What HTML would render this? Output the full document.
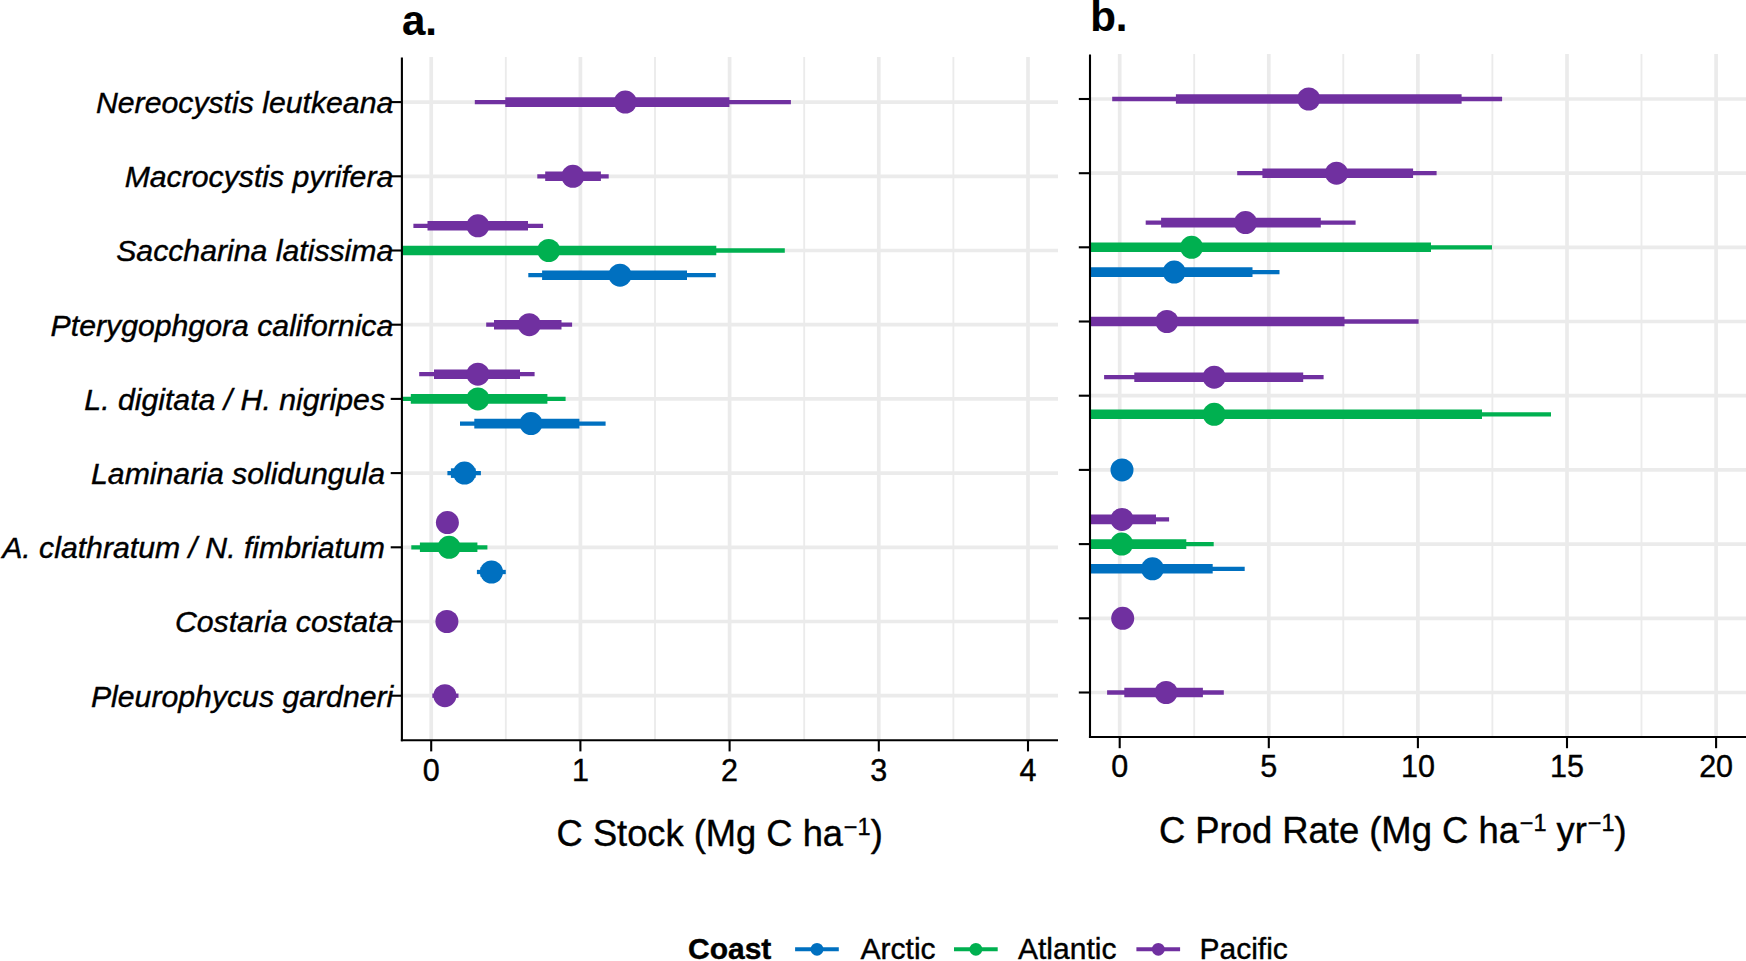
<!DOCTYPE html>
<html lang="en"><head><meta charset="utf-8"><title>Kelp carbon stock and production</title>
<style>html,body{margin:0;padding:0;background:#fff;}body{width:1746px;height:961px;overflow:hidden;}svg{display:block;}</style></head>
<body>
<svg width="1746" height="961" viewBox="0 0 1746 961">
<rect width="1746" height="961" fill="#fff"/>
<g>
<line x1="505.8" x2="505.8" y1="57.1" y2="740.2" stroke="#ebebeb" stroke-width="1.85"/>
<line x1="655.0" x2="655.0" y1="57.1" y2="740.2" stroke="#ebebeb" stroke-width="1.85"/>
<line x1="804.2" x2="804.2" y1="57.1" y2="740.2" stroke="#ebebeb" stroke-width="1.85"/>
<line x1="953.4" x2="953.4" y1="57.1" y2="740.2" stroke="#ebebeb" stroke-width="1.85"/>
<line x1="431.2" x2="431.2" y1="57.1" y2="740.2" stroke="#ebebeb" stroke-width="3.7"/>
<line x1="580.4" x2="580.4" y1="57.1" y2="740.2" stroke="#ebebeb" stroke-width="3.7"/>
<line x1="729.6" x2="729.6" y1="57.1" y2="740.2" stroke="#ebebeb" stroke-width="3.7"/>
<line x1="878.8" x2="878.8" y1="57.1" y2="740.2" stroke="#ebebeb" stroke-width="3.7"/>
<line x1="1028.0" x2="1028.0" y1="57.1" y2="740.2" stroke="#ebebeb" stroke-width="3.7"/>
<line x1="401.9" x2="1058.0" y1="102.1" y2="102.1" stroke="#ebebeb" stroke-width="3.7"/>
<line x1="401.9" x2="1058.0" y1="176.3" y2="176.3" stroke="#ebebeb" stroke-width="3.7"/>
<line x1="401.9" x2="1058.0" y1="250.5" y2="250.5" stroke="#ebebeb" stroke-width="3.7"/>
<line x1="401.9" x2="1058.0" y1="324.7" y2="324.7" stroke="#ebebeb" stroke-width="3.7"/>
<line x1="401.9" x2="1058.0" y1="398.9" y2="398.9" stroke="#ebebeb" stroke-width="3.7"/>
<line x1="401.9" x2="1058.0" y1="473.1" y2="473.1" stroke="#ebebeb" stroke-width="3.7"/>
<line x1="401.9" x2="1058.0" y1="547.3" y2="547.3" stroke="#ebebeb" stroke-width="3.7"/>
<line x1="401.9" x2="1058.0" y1="621.5" y2="621.5" stroke="#ebebeb" stroke-width="3.7"/>
<line x1="401.9" x2="1058.0" y1="695.7" y2="695.7" stroke="#ebebeb" stroke-width="3.7"/>
<line x1="1194.2" x2="1194.2" y1="53.95" y2="737.0" stroke="#ebebeb" stroke-width="1.85"/>
<line x1="1343.3" x2="1343.3" y1="53.95" y2="737.0" stroke="#ebebeb" stroke-width="1.85"/>
<line x1="1492.4" x2="1492.4" y1="53.95" y2="737.0" stroke="#ebebeb" stroke-width="1.85"/>
<line x1="1641.5" x2="1641.5" y1="53.95" y2="737.0" stroke="#ebebeb" stroke-width="1.85"/>
<line x1="1119.7" x2="1119.7" y1="53.95" y2="737.0" stroke="#ebebeb" stroke-width="3.7"/>
<line x1="1268.8" x2="1268.8" y1="53.95" y2="737.0" stroke="#ebebeb" stroke-width="3.7"/>
<line x1="1417.9" x2="1417.9" y1="53.95" y2="737.0" stroke="#ebebeb" stroke-width="3.7"/>
<line x1="1567.0" x2="1567.0" y1="53.95" y2="737.0" stroke="#ebebeb" stroke-width="3.7"/>
<line x1="1716.1" x2="1716.1" y1="53.95" y2="737.0" stroke="#ebebeb" stroke-width="3.7"/>
<line x1="1090.0" x2="1746.0" y1="99.0" y2="99.0" stroke="#ebebeb" stroke-width="3.7"/>
<line x1="1090.0" x2="1746.0" y1="173.2" y2="173.2" stroke="#ebebeb" stroke-width="3.7"/>
<line x1="1090.0" x2="1746.0" y1="247.3" y2="247.3" stroke="#ebebeb" stroke-width="3.7"/>
<line x1="1090.0" x2="1746.0" y1="321.5" y2="321.5" stroke="#ebebeb" stroke-width="3.7"/>
<line x1="1090.0" x2="1746.0" y1="395.7" y2="395.7" stroke="#ebebeb" stroke-width="3.7"/>
<line x1="1090.0" x2="1746.0" y1="469.9" y2="469.9" stroke="#ebebeb" stroke-width="3.7"/>
<line x1="1090.0" x2="1746.0" y1="544.1" y2="544.1" stroke="#ebebeb" stroke-width="3.7"/>
<line x1="1090.0" x2="1746.0" y1="618.3" y2="618.3" stroke="#ebebeb" stroke-width="3.7"/>
<line x1="1090.0" x2="1746.0" y1="692.5" y2="692.5" stroke="#ebebeb" stroke-width="3.7"/>
</g>
<g>
<line x1="474.8" x2="790.9" y1="102.1" y2="102.1" stroke="#7030A0" stroke-width="4.3"/>
<line x1="505.3" x2="729.4" y1="102.1" y2="102.1" stroke="#7030A0" stroke-width="9.6"/>
<circle cx="625.3" cy="102.1" r="11.5" fill="#7030A0"/>
<line x1="537.3" x2="608.7" y1="176.3" y2="176.3" stroke="#7030A0" stroke-width="4.3"/>
<line x1="545.2" x2="600.9" y1="176.3" y2="176.3" stroke="#7030A0" stroke-width="9.6"/>
<circle cx="572.9" cy="176.3" r="11.5" fill="#7030A0"/>
<line x1="413.4" x2="543.1" y1="225.8" y2="225.8" stroke="#7030A0" stroke-width="4.3"/>
<line x1="427.5" x2="528.0" y1="225.8" y2="225.8" stroke="#7030A0" stroke-width="9.6"/>
<circle cx="477.9" cy="225.8" r="11.5" fill="#7030A0"/>
<line x1="401.9" x2="784.8" y1="250.5" y2="250.5" stroke="#00B050" stroke-width="4.3"/>
<line x1="401.9" x2="716.3" y1="250.5" y2="250.5" stroke="#00B050" stroke-width="9.6"/>
<circle cx="548.7" cy="250.5" r="11.5" fill="#00B050"/>
<line x1="528.3" x2="715.8" y1="275.2" y2="275.2" stroke="#0070C0" stroke-width="4.3"/>
<line x1="542.1" x2="687.0" y1="275.2" y2="275.2" stroke="#0070C0" stroke-width="9.6"/>
<circle cx="620.0" cy="275.2" r="11.5" fill="#0070C0"/>
<line x1="486.2" x2="572.1" y1="324.7" y2="324.7" stroke="#7030A0" stroke-width="4.3"/>
<line x1="494.0" x2="561.5" y1="324.7" y2="324.7" stroke="#7030A0" stroke-width="9.6"/>
<circle cx="529.3" cy="324.7" r="11.5" fill="#7030A0"/>
<line x1="419.2" x2="534.6" y1="374.2" y2="374.2" stroke="#7030A0" stroke-width="4.3"/>
<line x1="434.0" x2="520.0" y1="374.2" y2="374.2" stroke="#7030A0" stroke-width="9.6"/>
<circle cx="477.9" cy="374.2" r="11.5" fill="#7030A0"/>
<line x1="401.9" x2="565.6" y1="398.9" y2="398.9" stroke="#00B050" stroke-width="4.3"/>
<line x1="410.8" x2="547.4" y1="398.9" y2="398.9" stroke="#00B050" stroke-width="9.6"/>
<circle cx="477.9" cy="398.9" r="11.5" fill="#00B050"/>
<line x1="460.0" x2="605.6" y1="423.6" y2="423.6" stroke="#0070C0" stroke-width="4.3"/>
<line x1="474.3" x2="579.4" y1="423.6" y2="423.6" stroke="#0070C0" stroke-width="9.6"/>
<circle cx="531.0" cy="423.6" r="11.5" fill="#0070C0"/>
<line x1="447.4" x2="480.9" y1="473.1" y2="473.1" stroke="#0070C0" stroke-width="4.3"/>
<line x1="450.9" x2="475.6" y1="473.1" y2="473.1" stroke="#0070C0" stroke-width="9.6"/>
<circle cx="464.5" cy="473.1" r="11.5" fill="#0070C0"/>
<circle cx="447.4" cy="522.6" r="11.5" fill="#7030A0"/>
<line x1="411.3" x2="487.4" y1="547.3" y2="547.3" stroke="#00B050" stroke-width="4.3"/>
<line x1="419.9" x2="477.4" y1="547.3" y2="547.3" stroke="#00B050" stroke-width="9.6"/>
<circle cx="449.1" cy="547.3" r="11.5" fill="#00B050"/>
<line x1="476.9" x2="505.8" y1="572.0" y2="572.0" stroke="#0070C0" stroke-width="4.3"/>
<line x1="480.5" x2="502.0" y1="572.0" y2="572.0" stroke="#0070C0" stroke-width="9.6"/>
<circle cx="491.5" cy="572.0" r="11.5" fill="#0070C0"/>
<circle cx="446.9" cy="621.5" r="11.5" fill="#7030A0"/>
<line x1="432.3" x2="458.5" y1="695.7" y2="695.7" stroke="#7030A0" stroke-width="4.3"/>
<circle cx="444.9" cy="695.7" r="11.5" fill="#7030A0"/>
<line x1="1112.2" x2="1502.1" y1="99.0" y2="99.0" stroke="#7030A0" stroke-width="4.3"/>
<line x1="1175.9" x2="1461.6" y1="99.0" y2="99.0" stroke="#7030A0" stroke-width="9.6"/>
<circle cx="1308.7" cy="99.0" r="11.5" fill="#7030A0"/>
<line x1="1237.2" x2="1436.6" y1="173.2" y2="173.2" stroke="#7030A0" stroke-width="4.3"/>
<line x1="1262.4" x2="1413.1" y1="173.2" y2="173.2" stroke="#7030A0" stroke-width="9.6"/>
<circle cx="1336.5" cy="173.2" r="11.5" fill="#7030A0"/>
<line x1="1145.7" x2="1355.6" y1="222.6" y2="222.6" stroke="#7030A0" stroke-width="4.3"/>
<line x1="1161.1" x2="1320.8" y1="222.6" y2="222.6" stroke="#7030A0" stroke-width="9.6"/>
<circle cx="1245.5" cy="222.6" r="11.5" fill="#7030A0"/>
<line x1="1090.0" x2="1492.0" y1="247.3" y2="247.3" stroke="#00B050" stroke-width="4.3"/>
<line x1="1090.0" x2="1431.0" y1="247.3" y2="247.3" stroke="#00B050" stroke-width="9.6"/>
<circle cx="1191.6" cy="247.3" r="11.5" fill="#00B050"/>
<line x1="1090.0" x2="1279.5" y1="272.1" y2="272.1" stroke="#0070C0" stroke-width="4.3"/>
<line x1="1090.0" x2="1252.5" y1="272.1" y2="272.1" stroke="#0070C0" stroke-width="9.6"/>
<circle cx="1174.2" cy="272.1" r="11.5" fill="#0070C0"/>
<line x1="1090.0" x2="1418.6" y1="321.5" y2="321.5" stroke="#7030A0" stroke-width="4.3"/>
<line x1="1090.0" x2="1344.5" y1="321.5" y2="321.5" stroke="#7030A0" stroke-width="9.6"/>
<circle cx="1166.9" cy="321.5" r="11.5" fill="#7030A0"/>
<line x1="1104.1" x2="1323.6" y1="377.2" y2="377.2" stroke="#7030A0" stroke-width="4.3"/>
<line x1="1134.3" x2="1303.2" y1="377.2" y2="377.2" stroke="#7030A0" stroke-width="9.6"/>
<circle cx="1214.2" cy="377.2" r="11.5" fill="#7030A0"/>
<line x1="1090.0" x2="1551.0" y1="414.3" y2="414.3" stroke="#00B050" stroke-width="4.3"/>
<line x1="1090.0" x2="1482.0" y1="414.3" y2="414.3" stroke="#00B050" stroke-width="9.6"/>
<circle cx="1214.2" cy="414.3" r="11.5" fill="#00B050"/>
<circle cx="1122.0" cy="469.9" r="11.5" fill="#0070C0"/>
<line x1="1090.0" x2="1169.1" y1="519.4" y2="519.4" stroke="#7030A0" stroke-width="4.3"/>
<line x1="1090.0" x2="1156.0" y1="519.4" y2="519.4" stroke="#7030A0" stroke-width="9.6"/>
<circle cx="1122.0" cy="519.4" r="11.5" fill="#7030A0"/>
<line x1="1090.0" x2="1213.7" y1="544.1" y2="544.1" stroke="#00B050" stroke-width="4.3"/>
<line x1="1090.0" x2="1186.3" y1="544.1" y2="544.1" stroke="#00B050" stroke-width="9.6"/>
<circle cx="1121.7" cy="544.1" r="11.5" fill="#00B050"/>
<line x1="1090.0" x2="1244.7" y1="568.8" y2="568.8" stroke="#0070C0" stroke-width="4.3"/>
<line x1="1090.0" x2="1212.7" y1="568.8" y2="568.8" stroke="#0070C0" stroke-width="9.6"/>
<circle cx="1152.5" cy="568.8" r="11.5" fill="#0070C0"/>
<circle cx="1122.7" cy="618.3" r="11.5" fill="#7030A0"/>
<line x1="1107.1" x2="1223.8" y1="692.5" y2="692.5" stroke="#7030A0" stroke-width="4.3"/>
<line x1="1124.3" x2="1202.9" y1="692.5" y2="692.5" stroke="#7030A0" stroke-width="9.6"/>
<circle cx="1166.1" cy="692.5" r="11.5" fill="#7030A0"/>
</g>
<g stroke="#000" stroke-width="2.1" fill="none">
<line x1="401.9" x2="401.9" y1="57.6" y2="741.25"/>
<line x1="400.84999999999997" x2="1058.0" y1="740.2" y2="740.2"/>
<line x1="390.7" x2="401.9" y1="102.1" y2="102.1"/>
<line x1="390.7" x2="401.9" y1="176.3" y2="176.3"/>
<line x1="390.7" x2="401.9" y1="250.5" y2="250.5"/>
<line x1="390.7" x2="401.9" y1="324.7" y2="324.7"/>
<line x1="390.7" x2="401.9" y1="398.9" y2="398.9"/>
<line x1="390.7" x2="401.9" y1="473.1" y2="473.1"/>
<line x1="390.7" x2="401.9" y1="547.3" y2="547.3"/>
<line x1="390.7" x2="401.9" y1="621.5" y2="621.5"/>
<line x1="390.7" x2="401.9" y1="695.7" y2="695.7"/>
<line x1="431.2" x2="431.2" y1="740.2" y2="751.4000000000001"/>
<line x1="580.4" x2="580.4" y1="740.2" y2="751.4000000000001"/>
<line x1="729.6" x2="729.6" y1="740.2" y2="751.4000000000001"/>
<line x1="878.8" x2="878.8" y1="740.2" y2="751.4000000000001"/>
<line x1="1028.0" x2="1028.0" y1="740.2" y2="751.4000000000001"/>
<line x1="1090.0" x2="1090.0" y1="54.45" y2="738.05"/>
<line x1="1088.95" x2="1746.0" y1="737.0" y2="737.0"/>
<line x1="1078.8" x2="1090.0" y1="99.0" y2="99.0"/>
<line x1="1078.8" x2="1090.0" y1="173.2" y2="173.2"/>
<line x1="1078.8" x2="1090.0" y1="247.3" y2="247.3"/>
<line x1="1078.8" x2="1090.0" y1="321.5" y2="321.5"/>
<line x1="1078.8" x2="1090.0" y1="395.7" y2="395.7"/>
<line x1="1078.8" x2="1090.0" y1="469.9" y2="469.9"/>
<line x1="1078.8" x2="1090.0" y1="544.1" y2="544.1"/>
<line x1="1078.8" x2="1090.0" y1="618.3" y2="618.3"/>
<line x1="1078.8" x2="1090.0" y1="692.5" y2="692.5"/>
<line x1="1119.7" x2="1119.7" y1="737.0" y2="748.2"/>
<line x1="1268.8" x2="1268.8" y1="737.0" y2="748.2"/>
<line x1="1417.9" x2="1417.9" y1="737.0" y2="748.2"/>
<line x1="1567.0" x2="1567.0" y1="737.0" y2="748.2"/>
<line x1="1716.1" x2="1716.1" y1="737.0" y2="748.2"/>
</g>
<g font-family="'Liberation Sans', Arial, Helvetica, sans-serif" fill="#000" stroke="#000" stroke-width="0.4">
<text x="402.0" y="34.7" font-size="42" font-weight="bold" stroke-width="0.15">a.</text>
<text x="1090.2" y="30.9" font-size="42" font-weight="bold" stroke-width="0.15">b.</text>
<text x="393.3" y="113.0" font-size="30.23" font-style="italic" text-anchor="end">Nereocystis leutkeana</text>
<text x="393.3" y="187.2" font-size="30.23" font-style="italic" text-anchor="end">Macrocystis pyrifera</text>
<text x="393.3" y="261.4" font-size="30.23" font-style="italic" text-anchor="end">Saccharina latissima</text>
<text x="393.3" y="335.6" font-size="30.23" font-style="italic" text-anchor="end">Pterygophgora californica</text>
<text x="385.0" y="409.8" font-size="30.23" font-style="italic" text-anchor="end">L. digitata / H. nigripes</text>
<text x="385.0" y="484.0" font-size="30.23" font-style="italic" text-anchor="end">Laminaria solidungula</text>
<text x="385.0" y="558.2" font-size="30.23" font-style="italic" text-anchor="end">A. clathratum / N. fimbriatum</text>
<text x="393.3" y="632.4" font-size="30.23" font-style="italic" text-anchor="end">Costaria costata</text>
<text x="393.3" y="706.6" font-size="30.23" font-style="italic" text-anchor="end">Pleurophycus gardneri</text>
<text x="431.2" y="781.2" font-size="30.5" text-anchor="middle">0</text>
<text x="580.4" y="781.2" font-size="30.5" text-anchor="middle">1</text>
<text x="729.6" y="781.2" font-size="30.5" text-anchor="middle">2</text>
<text x="878.8" y="781.2" font-size="30.5" text-anchor="middle">3</text>
<text x="1028.0" y="781.2" font-size="30.5" text-anchor="middle">4</text>
<text x="1119.7" y="777.4" font-size="30.5" text-anchor="middle">0</text>
<text x="1268.8" y="777.4" font-size="30.5" text-anchor="middle">5</text>
<text x="1417.9" y="777.4" font-size="30.5" text-anchor="middle">10</text>
<text x="1567.0" y="777.4" font-size="30.5" text-anchor="middle">15</text>
<text x="1716.1" y="777.4" font-size="30.5" text-anchor="middle">20</text>
<text x="556.6" y="846" font-size="36.3">C Stock (Mg C ha<tspan font-size="23.5" dy="-11.2" dx="0.8">−1</tspan><tspan dy="11.2">)</tspan></text>
<text x="1158.9" y="842.6" font-size="36.4">C Prod Rate (Mg C ha<tspan font-size="23.5" dy="-11.2" dx="0.8">−1</tspan><tspan dy="11.2"> yr</tspan><tspan font-size="23.5" dy="-11.2" dx="0.8">−1</tspan><tspan dy="11.2">)</tspan></text>
<text x="688.0" y="958.7" font-size="30" font-weight="bold">Coast</text>
<line x1="795.1" x2="838.8000000000001" y1="949.3" y2="949.3" stroke="#0070C0" stroke-width="3.9"/>
<circle cx="817.0" cy="949.3" r="6.4" fill="#0070C0" stroke="none"/>
<text x="860.6" y="958.7" font-size="30">Arctic</text>
<line x1="954.0" x2="997.7" y1="949.3" y2="949.3" stroke="#00B050" stroke-width="3.9"/>
<circle cx="975.9" cy="949.3" r="6.4" fill="#00B050" stroke="none"/>
<text x="1018.0" y="958.7" font-size="30">Atlantic</text>
<line x1="1136.4" x2="1180.1000000000001" y1="949.3" y2="949.3" stroke="#7030A0" stroke-width="3.9"/>
<circle cx="1158.3000000000002" cy="949.3" r="6.4" fill="#7030A0" stroke="none"/>
<text x="1199.5" y="958.7" font-size="30">Pacific</text>
</g>
</svg>
</body></html>
